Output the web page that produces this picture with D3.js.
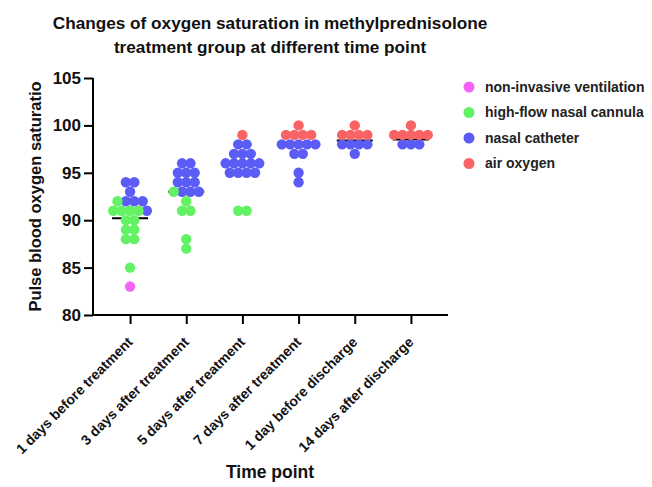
<!DOCTYPE html>
<html><head><meta charset="utf-8">
<script src="https://cdn.jsdelivr.net/npm/d3@7"></script>
<style>body{margin:0;background:#fff}</style></head>
<body>
<svg id="c" width="652" height="487"></svg>
<script>
const timePoints = ["1 days before treatment","3 days after treatment","5 days after treatment","7 days after treatment","1 day before discharge","14 days after discharge"];
const seriesNames = ["non-invasive ventilation","high-flow nasal cannula","nasal catheter","air oxygen"];
const seriesColors = ["#f763f7","#63f263","#5b5bf5","#fa6363"];
// values at each time point for each series
const nonInvasive   = [[83],[],[],[],[],[]];
const highFlow      = [[92,91,91,91,91,90,90,89,89,88,88,85],[93,92,91,91,88,87],[91,91],[],[],[]];
const nasalCatheter = [[94,94,93,92,92,92,91],[96,96,95,95,95,94,94,94,93,93,93],[98,98,97,97,97,96,96,96,96,96,95,95,95,95],[98,98,98,98,98,97,97,95,94],[98,98,98,98,97],[98,98,98]];
const airOxygen     = [[],[],[99],[100,99,99,99,99],[100,99,99,99,99],[100,99,99,99,99,99]];
const centerLines   = [90.2, 93, 96, 98, 98.4, 98.5];
const yTicks = [80,85,90,95,100,105];
const seriesValues = [nonInvasive, highFlow, nasalCatheter, airOxygen];
const drawOrder = [2,3,1,0];

const svg = d3.select("#c");
const font = "'Liberation Sans', Arial, sans-serif";
const mL = 93, mR = 448, mT = 78, mB = 315;

const x = d3.scalePoint().domain(timePoints).range([mL, mR]).padding(0.66);
const y = d3.scaleLinear().domain([80,105]).range([mB, mT]);

// title
const title = svg.append("text").attr("x", 270).attr("y", 29).attr("text-anchor","middle")
  .style("font-family", font).style("font-weight","bold").style("font-size","17.2px").attr("fill","#111");
title.append("tspan").attr("x",270).attr("dy",0).text("Changes of oxygen saturation in methylprednisolone");
title.append("tspan").attr("x",270).attr("dy",24).text("treatment group at different time point");

// axes
const yAxis = svg.append("g").attr("transform",`translate(${mL},0)`)
  .call(d3.axisLeft(y).tickValues(yTicks).tickSize(9).tickSizeOuter(0).tickPadding(3));
const xAxis = svg.append("g").attr("transform",`translate(0,${mB})`)
  .call(d3.axisBottom(x).tickSize(9).tickSizeOuter(0));
[yAxis, xAxis].forEach(g => {
  g.selectAll("path, line").attr("stroke","#000").attr("stroke-width",2);
});
xAxis.select(".domain").attr("d", `M${mL-1},0H${mR}`);
yAxis.select(".domain").attr("d", `M0,${mT}V${mB+1}`);
yAxis.selectAll("text").style("font-family",font).style("font-weight","bold").style("font-size","17px").attr("fill","#111");
xAxis.selectAll("text").style("font-family",font).style("font-weight","bold").style("font-size","14px").attr("fill","#111")
  .attr("text-anchor","end").attr("dy",0).attr("y",0)
  .attr("transform","translate(3,28) rotate(-45)");

// axis titles
svg.append("text").attr("transform",`translate(41,${(mT+mB)/2}) rotate(-90)`).attr("text-anchor","middle")
  .style("font-family",font).style("font-weight","bold").style("font-size","16.5px").attr("fill","#111")
  .text("Pulse blood oxygen saturatio");
svg.append("text").attr("x",270).attr("y",478).attr("text-anchor","middle")
  .style("font-family",font).style("font-weight","bold").style("font-size","17.5px").attr("fill","#111")
  .text("Time point");

// center lines (beneath dots)
svg.append("g").selectAll("line").data(centerLines).join("line")
  .attr("x1",(d,i)=>x(timePoints[i])-18).attr("x2",(d,i)=>x(timePoints[i])+18)
  .attr("y1",d=>y(d)).attr("y2",d=>y(d)).attr("stroke","#000").attr("stroke-width",2);

// dots: arrange each value row centred on the time point
const spacing = 8.4, r = 5.2;
const pts = [];
timePoints.forEach((tp, gi) => {
  const all = [];
  seriesValues.forEach((sv, si) => sv[gi].forEach(v => all.push({v, si, tp})));
  const rows = d3.group(all, d => d.v);
  rows.forEach(row => {
    row.sort((a,b)=>a.si-b.si);
    row.forEach((p,k) => { p.off = (k-(row.length-1)/2)*spacing; pts.push(p); });
  });
});
pts.sort((a,b)=>drawOrder.indexOf(a.si)-drawOrder.indexOf(b.si));
svg.append("g").selectAll("circle").data(pts).join("circle")
  .attr("cx", d => x(d.tp)+d.off).attr("cy", d => y(d.v)).attr("r", r)
  .attr("fill", d => seriesColors[d.si]);

// legend
const lg = svg.append("g").selectAll("g").data(seriesNames).join("g")
  .attr("transform",(d,i)=>`translate(469,${87+i*25.5})`);
lg.append("circle").attr("r",5.5).attr("fill",(d,i)=>seriesColors[i]);
lg.append("text").attr("x",16).attr("dy","0.35em").text(d=>d)
  .style("font-family",font).style("font-size","14px").style("font-weight","bold").attr("fill","#222");
</script>
</body></html>
